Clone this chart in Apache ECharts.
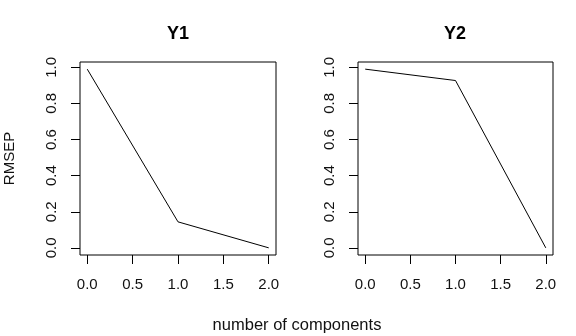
<!DOCTYPE html>
<html>
<head>
<meta charset="utf-8">
<script src="https://cdn.jsdelivr.net/npm/echarts@6/dist/echarts.min.js"></script>
<style>
  html, body { margin: 0; padding: 0; background: #fff; }
  #chart { width: 576px; height: 336px; }
</style>
</head>
<body>
<div id="chart"></div>
<script>
// Number of components on the x axis
const components = [0, 1, 2];
// RMSEP per response
const rmsepY1 = [0.99, 0.144, 0.0];
const rmsepY2 = [0.99, 0.927, 0.0];
// Tick labels
const xTicks = [0, 0.5, 1, 1.5, 2];
const yTicks = [0, 0.2, 0.4, 0.6, 0.8, 1.0];
const panelTitles = ['Y1', 'Y2'];

const FONT = '"Liberation Sans", Arial, sans-serif';

// Axis range extended by 4% on each side
function padRange(vals) {
  const lo = Math.min(...vals), hi = Math.max(...vals);
  const pad = (hi - lo) * 0.04;
  return [lo - pad, hi + pad];
}

const xr = padRange(components);
const grids = [
  { left: 80, top: 62, width: 196, height: 193 },
  { left: 358, top: 62, width: 195, height: 193 }
];

function xAxisFor(i) {
  return {
    type: 'value', gridIndex: i, min: xr[0], max: xr[1],
    axisLine: { show: false, onZero: false },
    splitLine: { show: false },
    axisTick: { show: true, length: 9, customValues: xTicks, lineStyle: { color: '#000', width: 1 } },
    axisLabel: { show: true, customValues: xTicks, margin: 22, color: '#111', fontFamily: FONT, fontSize: 15,
      formatter: v => v.toFixed(1) }
  };
}
function yAxisFor(i, vals) {
  const yr = padRange(vals);
  return {
    type: 'value', gridIndex: i, min: yr[0], max: yr[1],
    axisLine: { show: false, onZero: false },
    splitLine: { show: false },
    axisTick: { show: true, length: 9, customValues: yTicks, lineStyle: { color: '#000', width: 1 } },
    axisLabel: { show: true, customValues: yTicks, rotate: 90, margin: 21, color: '#111', fontFamily: FONT, fontSize: 15,
      formatter: v => v.toFixed(1) }
  };
}

const series = [rmsepY1, rmsepY2].map((vals, i) => ({
  type: 'line', xAxisIndex: i, yAxisIndex: i,
  data: components.map((c, k) => [c, vals[k]]),
  showSymbol: false, symbol: 'none',
  lineStyle: { color: '#000', width: 1 },
  animation: false
}));

const chart = echarts.init(document.getElementById('chart'), null, { renderer: 'canvas' });
chart.setOption({
  animation: false,
  backgroundColor: '#fff',
  grid: grids.map(g => Object.assign({ show: true, borderColor: '#000', borderWidth: 1, backgroundColor: 'transparent' }, g)),
  xAxis: [xAxisFor(0), xAxisFor(1)],
  yAxis: [yAxisFor(0, rmsepY1), yAxisFor(1, rmsepY2)],
  series: series,
  graphic: [
    { type: 'text', x: 178, y: 34, style: { text: panelTitles[0], fontFamily: FONT, fontSize: 18, fontWeight: 'bold', fill: '#000', textAlign: 'center', textVerticalAlign: 'middle' } },
    { type: 'text', x: 455, y: 34, style: { text: panelTitles[1], fontFamily: FONT, fontSize: 18, fontWeight: 'bold', fill: '#000', textAlign: 'center', textVerticalAlign: 'middle' } },
    { type: 'text', x: 10, y: 158.5, rotation: Math.PI / 2, style: { text: 'RMSEP', fontFamily: FONT, fontSize: 15, fill: '#111', textAlign: 'center', textVerticalAlign: 'middle' } },
    { type: 'text', x: 297, y: 325, style: { text: 'number of components', fontFamily: FONT, fontSize: 16.5, fill: '#111', textAlign: 'center', textVerticalAlign: 'middle' } }
  ]
});
</script>
</body>
</html>
